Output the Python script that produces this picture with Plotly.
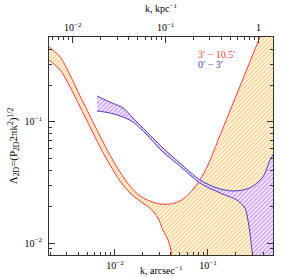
import plotly.graph_objects as go

# ---- data (k in arcsec^-1, Lambda_2D) ----
red_upper_k = [0.0018, 0.00195, 0.00257, 0.00328, 0.00421, 0.00539, 0.0069, 0.00884, 0.01132,
               0.01449, 0.01857, 0.02378, 0.03047, 0.03902, 0.05, 0.064, 0.082, 0.1, 0.1346,
               0.1857, 0.25, 0.3625, 0.41, 0.43]
red_upper_a = [0.44, 0.417, 0.345, 0.245, 0.164, 0.112, 0.0766, 0.0533, 0.0386,
               0.0296, 0.0245, 0.0222, 0.021, 0.021, 0.0222, 0.0259, 0.0332, 0.0441, 0.0773,
               0.142, 0.249, 0.504, 0.637, 5.0]

red_lower_k = [0.0018, 0.00195, 0.00257, 0.00328, 0.00421, 0.00539, 0.0069, 0.00884, 0.01132,
               0.01449, 0.01857, 0.02378, 0.02897, 0.03282, 0.03715, 0.04, 0.041, 0.0425, 2.0, 2.0]
red_lower_a = [0.34, 0.325, 0.269, 0.195, 0.133, 0.091, 0.0621, 0.0441, 0.0325,
               0.0259, 0.0222, 0.0194, 0.0161, 0.0128, 0.0106, 0.00875, 0.00796, 0.001, 0.001, 5.0]

blue_upper_k = [0.0064, 0.00884, 0.0122, 0.0156, 0.0221, 0.0328, 0.05, 0.082, 0.125,
                0.186, 0.283, 0.39, 0.465, 0.5, 0.6]
blue_upper_a = [0.164, 0.146, 0.1306, 0.1079, 0.0827, 0.061, 0.0458, 0.0332, 0.0285,
                0.0269, 0.0285, 0.0351, 0.0485, 0.0533, 0.067]

blue_lower_k = [0.0064, 0.00884, 0.0122, 0.0156, 0.0221, 0.0328, 0.05, 0.082, 0.135,
                0.205, 0.25, 0.269, 0.283, 0.297, 0.305, 0.31, 2.0, 2.0]
blue_lower_a = [0.1233, 0.1186, 0.1099, 0.1, 0.0781, 0.0565, 0.0432, 0.0313, 0.0259,
                0.0226, 0.0194, 0.0155, 0.0121, 0.00875, 0.00766, 0.001, 0.001, 0.067]

label_red = "3′ − 10.5′"
label_blue = "0′ − 3′"
x_title = "k, arcsec<sup>−1</sup>"

# tick definitions
x_major = [0.01, 0.1]
x_major_text = ["10<sup>−2</sup>", "10<sup>−1</sup>"]
x_minor = [0.002, 0.003, 0.004, 0.005, 0.006, 0.007, 0.008, 0.009,
           0.02, 0.03, 0.04, 0.05, 0.06, 0.07, 0.08, 0.09, 0.2, 0.3, 0.4, 0.5]
top_major = [0.01, 0.1, 1]
top_major_text = ["10<sup>−2</sup>", "10<sup>−1</sup>", "1"]
top_minor = [0.006, 0.007, 0.008, 0.009, 0.02, 0.03, 0.04, 0.05, 0.06, 0.07, 0.08, 0.09,
             0.2, 0.3, 0.4, 0.5, 0.6, 0.7, 0.8, 0.9]
y_major = [0.01, 0.1]
y_major_text = ["10<sup>−2</sup>", "10<sup>−1</sup>"]
y_minor = [0.009, 0.02, 0.03, 0.04, 0.05, 0.06, 0.07, 0.08, 0.09, 0.2, 0.3, 0.4, 0.5]

KPC_SHIFT = 0.455  # log10 offset between kpc^-1 and arcsec^-1 scales

RED = "#ff3b3b"
BLUE = "#4a3cc0"
FONT = "Liberation Serif"
SPL = dict(width=1, shape="spline", smoothing=0.8)

fig = go.Figure()
fig.add_trace(go.Scatter(x=red_lower_k, y=red_lower_a, mode="lines",
                         line=dict(color=RED, **SPL), showlegend=False, hoverinfo="skip"))
fig.add_trace(go.Scatter(x=red_upper_k, y=red_upper_a, mode="lines",
                         line=dict(color=RED, **SPL),
                         fill="tonexty", fillcolor="rgba(0,0,0,0)",
                         fillpattern=dict(shape="/", fgcolor="#ffa41a", bgcolor="rgba(255,255,255,0)",
                                          size=3, solidity=0.55),
                         showlegend=False, hoverinfo="skip"))
fig.add_trace(go.Scatter(x=blue_lower_k, y=blue_lower_a, mode="lines",
                         line=dict(color=BLUE, **SPL), showlegend=False, hoverinfo="skip"))
fig.add_trace(go.Scatter(x=blue_upper_k, y=blue_upper_a, mode="lines",
                         line=dict(color=BLUE, **SPL),
                         fill="tonexty", fillcolor="white",
                         fillpattern=dict(shape="/", fgcolor="#9d3cff", bgcolor="white",
                                          size=3, solidity=0.55),
                         showlegend=False, hoverinfo="skip"))
# invisible trace to activate the top axis
fig.add_trace(go.Scatter(x=[0.01], y=[0.1], xaxis="x2", mode="markers",
                         marker=dict(opacity=0), showlegend=False, hoverinfo="skip"))

xlo, xhi = -2.71, -0.30
axis_line = dict(showline=True, linecolor="#333", linewidth=1, showgrid=False, zeroline=False,
                 automargin=False)

fig.update_layout(
    width=293, height=278,
    margin=dict(l=49, r=20, t=37, b=23, autoexpand=False),
    paper_bgcolor="white", plot_bgcolor="white",
    font=dict(family=FONT, size=10, color="black"),
    xaxis=dict(type="log", range=[xlo, xhi], **axis_line, mirror=False,
               ticks="inside", ticklen=6, tickcolor="#333",
               tickvals=x_major, ticktext=x_major_text, ticklabelstandoff=1,
               minor=dict(tickvals=x_minor, ticks="inside", ticklen=3, tickcolor="#333", showgrid=False)),
    xaxis2=dict(type="log", range=[xlo + KPC_SHIFT, xhi + KPC_SHIFT], overlaying="x", side="top",
                **axis_line, ticks="inside", ticklen=6, tickcolor="#333",
                tickvals=top_major, ticktext=top_major_text, ticklabelstandoff=1,
                minor=dict(tickvals=top_minor, ticks="inside", ticklen=3, tickcolor="#333", showgrid=False),
                title=dict(text="k, kpc<sup>−1</sup>", standoff=6, font=dict(size=10))),
    yaxis=dict(type="log", range=[-2.099, -0.298], **axis_line, mirror="ticks",
               ticks="inside", ticklen=6, tickcolor="#333",
               tickvals=y_major, ticktext=y_major_text, ticklabelstandoff=4,
               minor=dict(tickvals=y_minor, ticks="inside", ticklen=3, tickcolor="#333", showgrid=False),
               title=dict(text="Λ<sub>2D</sub>=(P<sub>2D</sub>2πk<sup>2</sup>)<sup>1/2</sup>",
                          standoff=4, font=dict(size=11))),
    annotations=[
        dict(text=label_red, xref="paper", yref="paper", x=0.655, y=0.922,
             xanchor="left", yanchor="middle", showarrow=False, font=dict(color=RED, size=10)),
        dict(text=label_blue, xref="paper", yref="paper", x=0.655, y=0.872,
             xanchor="left", yanchor="middle", showarrow=False, font=dict(color=BLUE, size=10)),
        dict(text=x_title, xref="paper", yref="paper", x=0.5, y=-0.069,
             xanchor="center", yanchor="middle", showarrow=False, font=dict(size=10)),
    ],
)

fig.write_html("out.html", config={"displayModeBar": False},
               post_script="document.body.style.margin='0';document.body.style.overflow='hidden';")
